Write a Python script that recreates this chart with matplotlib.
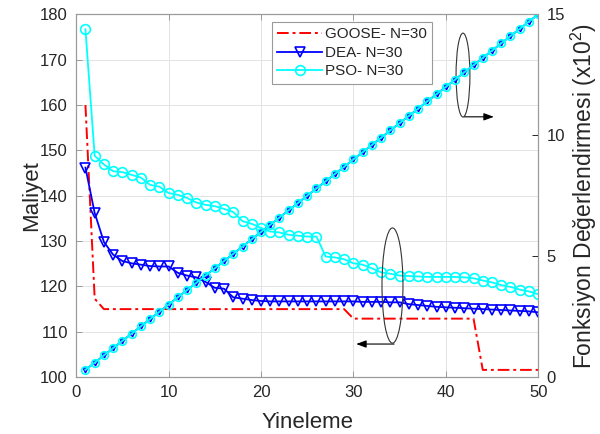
import matplotlib
matplotlib.use("Agg")
import matplotlib.pyplot as plt
from matplotlib.patches import Ellipse

plt.rcParams["font.family"] = ["Liberation Sans", "DejaVu Sans"]
plt.rcParams["mathtext.fontset"] = "custom"
plt.rcParams["mathtext.rm"] = "Liberation Sans"

# Yineleme (iterasyon)
yineleme = list(range(1, 51))

# Maliyet degerleri
goose_maliyet = [160.0, 117.3] + [115.0] * 27 + [112.9] * 14 + [101.6] * 7
dea_maliyet = [146.2, 136.2, 129.8, 127.0, 125.6, 125.1, 124.8, 124.5, 124.4, 124.4,
               123.0, 122.4, 122.0, 121.0, 119.7, 119.5, 117.6, 117.3, 117.0, 116.8,
               116.7, 116.7, 116.7, 116.7, 116.7, 116.7, 116.7, 116.7, 116.7, 116.7,
               116.6, 116.6, 116.6, 116.5, 116.5, 116.1, 115.9, 115.7, 115.5, 115.4,
               115.3, 115.2, 115.1, 115.0, 114.9, 114.8, 114.7, 114.6, 114.5, 114.3]
pso_maliyet = [176.7, 148.8, 146.9, 145.4, 145.2, 144.6, 144.0, 142.4, 142.0, 140.6,
               140.2, 139.5, 138.5, 138.0, 137.7, 137.1, 136.4, 134.4, 133.8, 132.9,
               132.1, 131.9, 131.4, 131.2, 131.0, 131.0, 126.6, 126.4, 126.0, 125.1,
               124.8, 124.0, 123.1, 122.8, 122.4, 122.3, 122.2, 122.1, 122.1, 122.1,
               122.1, 122.0, 121.8, 121.3, 120.9, 120.3, 119.9, 119.3, 118.9, 118.3]

# Fonksiyon degerlendirmesi (x10^2)
dea_fd = [0.3, 0.6, 0.9, 1.2, 1.5, 1.8, 2.1, 2.4, 2.7, 3.0,
          3.3, 3.6, 3.9, 4.2, 4.5, 4.8, 5.1, 5.4, 5.7, 6.0,
          6.3, 6.6, 6.9, 7.2, 7.5, 7.8, 8.1, 8.4, 8.7, 9.0,
          9.3, 9.6, 9.9, 10.2, 10.5, 10.8, 11.1, 11.4, 11.7, 12.0,
          12.3, 12.6, 12.9, 13.2, 13.5, 13.8, 14.1, 14.4, 14.7, 15.0]
pso_fd = [0.3, 0.6, 0.9, 1.2, 1.5, 1.8, 2.1, 2.4, 2.7, 3.0,
          3.3, 3.6, 3.9, 4.2, 4.5, 4.8, 5.1, 5.4, 5.7, 6.0,
          6.3, 6.6, 6.9, 7.2, 7.5, 7.8, 8.1, 8.4, 8.7, 9.0,
          9.3, 9.6, 9.9, 10.2, 10.5, 10.8, 11.1, 11.4, 11.7, 12.0,
          12.3, 12.6, 12.9, 13.2, 13.5, 13.8, 14.1, 14.4, 14.7, 15.0]

KIRMIZI = "#ff0000"
MAVI = "#0000ff"
CAMGOBEGI = "#00ffff"
EKSEN = "#262626"

fig = plt.figure(figsize=(6, 4.34), dpi=100)
ax = fig.add_axes([0.127, 0.131, 0.77, 0.836])
ax2 = ax.twinx()

# maliyet egrileri (sol eksen)
l1, = ax.plot(yineleme, goose_maliyet, color=KIRMIZI, lw=1.4, linestyle=(0, (6, 2, 1.5, 2)),
              label="GOOSE- N=30")
l2, = ax.plot(yineleme, dea_maliyet, color=MAVI, lw=1.3, marker="v", markersize=7.5,
              markerfacecolor="none", markeredgewidth=1.2, label="DEA- N=30")
l3, = ax.plot(yineleme, pso_maliyet, color=CAMGOBEGI, lw=1.3, marker="o", markersize=7,
              markerfacecolor="none", markeredgewidth=1.2, label="PSO- N=30")

# fonksiyon degerlendirmesi (sag eksen)
ax2.plot(yineleme, dea_fd, color=MAVI, lw=1.3, marker="v", markersize=3.5,
         markerfacecolor="none", markeredgewidth=1.0)
ax2.plot(yineleme, pso_fd, color=CAMGOBEGI, lw=1.3, marker="o", markersize=5.5,
         markerfacecolor="none", markeredgewidth=1.2)

ax.set_xlim(0, 50)
ax.set_ylim(100, 180)
ax2.set_ylim(0, 15)
ax.set_xticks([0, 10, 20, 30, 40, 50])
ax.set_yticks(range(100, 181, 10))
ax2.set_yticks([0, 5, 10, 15])

ax.grid(True, color="#e3e3e3", lw=0.7)
ax.set_axisbelow(True)

for a in (ax, ax2):
    for s in a.spines.values():
        s.set_color("#9a9a9a")
        s.set_linewidth(0.8)
ax.tick_params(axis="both", direction="in", length=4, width=0.7, color="#9a9a9a",
               labelsize=12, labelcolor=EKSEN, pad=6, top=True)
ax.tick_params(axis="y", right=False)
ax2.tick_params(axis="y", direction="in", length=4, width=0.7, color=EKSEN,
                labelsize=12, labelcolor=EKSEN, pad=6)

ax.set_xlabel("Yineleme", fontsize=16, color=EKSEN)
ax.xaxis.set_label_coords(0.5, -0.095)
ax.set_ylabel("Maliyet", fontsize=16, color=EKSEN, va="center")
ax.yaxis.set_label_coords(-0.097, 0.5)
ax2.set_ylabel(r"Fonksiyon Değerlendirmesi (x10$^{\mathrm{2}}$)", fontsize=16.5,
               color=EKSEN, va="center")
ax2.yaxis.set_label_coords(1.098, 0.5)

# elips ve oklar
e1 = Ellipse((41.86, 166.6), 1.5, 18.5, fill=False, edgecolor="#333333", lw=0.8, zorder=5)
e2 = Ellipse((34.23, 120.2), 2.27, 25.4, fill=False, edgecolor="#333333", lw=0.8, zorder=5)
ax.add_patch(e1)
ax.add_patch(e2)
ax.annotate("", xy=(45.2, 157.4), xytext=(42.0, 157.4),
            arrowprops=dict(arrowstyle="-|>,head_length=0.6,head_width=0.22",
                            color="black", lw=0.8, shrinkA=0, shrinkB=0))
ax.annotate("", xy=(30.3, 107.3), xytext=(34.4, 107.3),
            arrowprops=dict(arrowstyle="-|>,head_length=0.6,head_width=0.22",
                            color="black", lw=0.8, shrinkA=0, shrinkB=0))

leg = ax2.legend(handles=[l1, l2, l3], loc="upper left", bbox_to_anchor=(0.424, 0.979),
                 borderaxespad=0, fontsize=11, handlelength=2.9, handletextpad=0.2,
                 labelspacing=0.3, borderpad=0.35, fancybox=False, framealpha=1,
                 edgecolor="#9a9a9a")
leg.get_frame().set_linewidth(0.8)
for t in leg.get_texts():
    t.set_color(EKSEN)

plt.savefig("out.png", dpi=100)
plt.close()
